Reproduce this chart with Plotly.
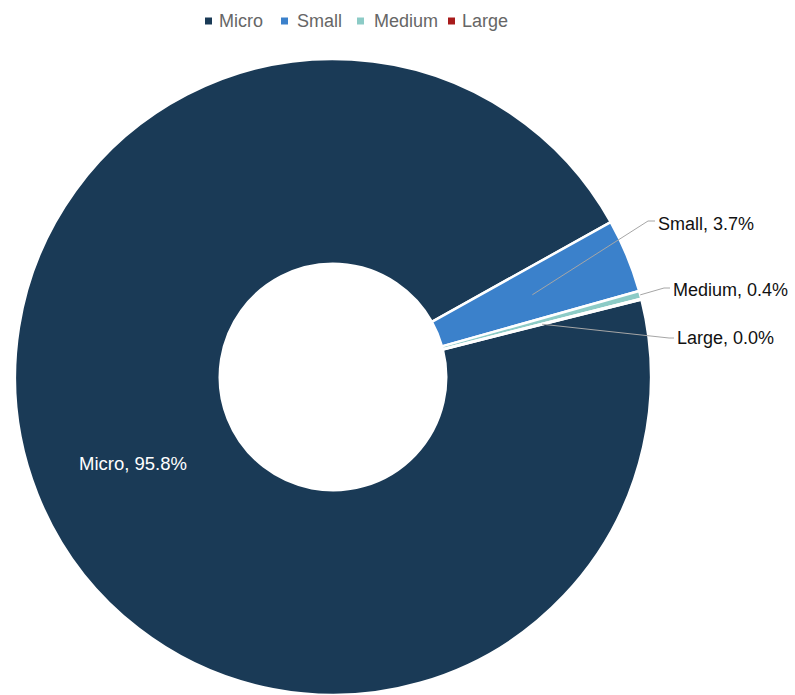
import math
import plotly.graph_objects as go

# ---- data ----
labels = ["Micro", "Small", "Medium", "Large"]
values = [95.82, 3.74, 0.40, 0.04]
colors = ["#1a3a56", "#3b81cb", "#8ccbc6", "#a81b1b"]

# ---- layout constants (pixels) ----
W, H = 795, 695
CX, CY, R = 333, 377, 318
HOLE = 0.356
ROT = 75.9
FONT = "Liberation Sans, Arial, sans-serif"

legend_marker_x = [205, 281, 357, 448]
legend_text_x = [217, 295, 372, 460]
legend_y = 21

# label placement for the small slices: start fraction across ring, elbow, text anchor
leader = {
    "Small": dict(frac=0.5, elbow=(648, 221), text=(656, 224)),
    "Medium": dict(frac=1.0, elbow=(664, 288), text=(671, 290)),
    "Large": dict(frac=0.5, elbow=(669, 338), text=(675, 338)),
}
inside_offset = (0, 7)


def paper(x, y):
    return x / W, 1 - y / H


def polar(theta_deg, r):
    t = math.radians(theta_deg)
    return CX + r * math.sin(t), CY - r * math.cos(t)


fig = go.Figure(
    go.Pie(
        labels=labels,
        values=values,
        sort=False,
        direction="clockwise",
        rotation=ROT,
        hole=HOLE,
        marker=dict(colors=colors, line=dict(color="white", width=2.5)),
        textinfo="none",
        showlegend=False,
        hoverinfo="label+percent",
        domain=dict(x=[(CX - R) / W, (CX + R) / W], y=[0, 2 * R / H]),
    )
)

total = sum(values)
cum = 0.0
annotations = []
shapes = []
r_in = R * HOLE
for lab, v in zip(labels, values):
    start = ROT + 360 * cum / total
    mid = start + 180 * v / total
    cum += v
    txt = f"{lab}, {100 * v / total:.1f}%"
    if lab in leader:
        cfg = leader[lab]
        sx, sy = polar(mid, r_in + cfg["frac"] * (R - r_in))
        ex, ey = cfg["elbow"]
        tx, ty = cfg["text"]
        p0 = paper(sx, sy)
        p1 = paper(ex, ey)
        p2 = paper(tx - 1, ey)
        shapes.append(dict(
            type="path", xref="paper", yref="paper",
            path=f"M {p0[0]} {p0[1]} L {p1[0]} {p1[1]} L {p2[0]} {p2[1]}",
            line=dict(color="#a6a6a6", width=1),
        ))
        px_, py_ = paper(tx, ty)
        annotations.append(dict(
            x=px_, y=py_, xref="paper", yref="paper", text=txt, showarrow=False,
            xanchor="left", yanchor="middle",
            font=dict(family=FONT, size=18, color="#111111"),
        ))
    else:
        mx, my = polar(mid, (r_in + R) / 2)
        px_, py_ = paper(mx + inside_offset[0], my + inside_offset[1])
        annotations.append(dict(
            x=px_, y=py_, xref="paper", yref="paper", text=txt, showarrow=False,
            xanchor="center", yanchor="middle",
            font=dict(family=FONT, size=18.5, color="#ffffff"),
        ))

# custom legend
for lab, col, mx, tx in zip(labels, colors, legend_marker_x, legend_text_x):
    a = paper(mx, legend_y - 3.5)
    b = paper(mx + 7, legend_y + 3.5)
    shapes.append(dict(type="rect", xref="paper", yref="paper",
                       x0=a[0], x1=b[0], y0=b[1], y1=a[1],
                       fillcolor=col, line=dict(width=0)))
    px_, py_ = paper(tx, legend_y)
    annotations.append(dict(
        x=px_, y=py_, xref="paper", yref="paper", text=lab, showarrow=False,
        xanchor="left", yanchor="middle",
        font=dict(family=FONT, size=18, color="#666666"),
    ))

fig.update_layout(
    width=W, height=H,
    margin=dict(l=0, r=0, t=0, b=0),
    paper_bgcolor="white", plot_bgcolor="white",
    annotations=annotations, shapes=shapes,
    showlegend=False,
)

fig.write_html("out.html")
